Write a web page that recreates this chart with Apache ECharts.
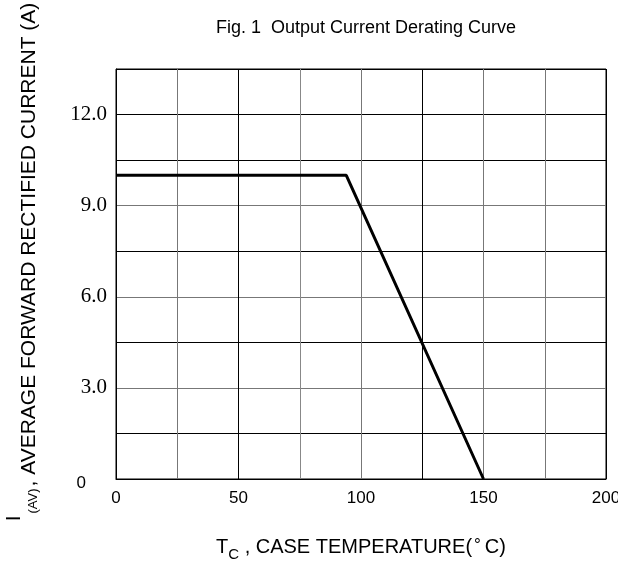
<!DOCTYPE html>
<html>
<head>
<meta charset="utf-8">
<script src="https://cdn.jsdelivr.net/npm/echarts@6/dist/echarts.min.js"></script>
<style>
  html, body { margin: 0; padding: 0; background: #fff; }
  #chart { width: 618px; height: 565px; }
</style>
</head>
<body>
<div id="chart"></div>
<script>
// derating curve: temperature (°C) vs current (A)
const tempPoints = [0, 94, 150]
const currentPoints = [10, 10, 0]
const xTicks = [0, 50, 100, 150, 200]
const yTicks = [0, 3, 6, 9, 12]

const chart = echarts.init(document.getElementById('chart'))

const sans = 'Liberation Sans, Arial, sans-serif'
const serif = 'Liberation Serif, Times New Roman, serif'

chart.setOption({
  animation: false,
  title: {
    text: 'Fig. 1  Output Current Derating Curve',
    left: 361,
    top: 14,
    textAlign: 'center',
    textStyle: { fontFamily: sans, fontSize: 18, fontWeight: 'normal', color: '#000' }
  },
  grid: {
    left: 116,
    right: 12,
    top: 69,
    bottom: 86,
    containLabel: false,
    outerBoundsMode: 'none',
    show: true,
    borderColor: '#000',
    borderWidth: 1
  },
  xAxis: {
    type: 'value',
    min: 0,
    max: 200,
    interval: 25,
    name: '{t|T}{s|C}{t| , CASE TEMPERATURE(}{d|°}{t|C)}',
    nameLocation: 'middle',
    nameGap: 58,
    nameTextStyle: {
      rich: {
        t: { fontFamily: sans, fontSize: 20, color: '#000', verticalAlign: 'top', lineHeight: 25 },
        s: { fontFamily: sans, fontSize: 15, color: '#000', verticalAlign: 'bottom', lineHeight: 25, padding: [9, 0, 0, 0] },
        d: { fontFamily: sans, fontSize: 17, color: '#000', verticalAlign: 'top', lineHeight: 25, padding: [0, 4, 0, 2] }
      }
    },
    axisLine: { show: true, lineStyle: { color: '#000' } },
    axisTick: { show: false },
    axisLabel: {
      margin: 11,
      fontFamily: sans,
      fontSize: 17,
      color: '#000',
      formatter: v => xTicks.includes(v) ? String(v) : ''
    },
    splitLine: { show: true, lineStyle: { color: ['#000', '#777', '#000', '#888', '#777', '#000', '#777', '#777', '#000'], width: 1 } }
  },
  yAxis: {
    type: 'value',
    min: 0,
    max: 13.5,
    interval: 1.5,
    name: '{i|I}{s|(AV)}{t|, AVERAGE FORWARD RECTIFIED CURRENT (A)}',
    nameLocation: 'middle',
    nameGap: 76,
    nameTextStyle: {
      rich: {
        i: { fontFamily: sans, fontSize: 21, color: '#000', lineHeight: 36, verticalAlign: 'top', padding: [0, 0, 0, 24] },
        s: { fontFamily: sans, fontSize: 13, color: '#000', lineHeight: 36, verticalAlign: 'bottom', padding: [0, 2, 0, 2] },
        t: { fontFamily: sans, fontSize: 21, color: '#000', lineHeight: 36, verticalAlign: 'bottom' }
      }
    },
    axisLine: { show: true, lineStyle: { color: '#000' } },
    axisTick: { show: false },
    axisLabel: {
      margin: 9,
      color: '#000',
      formatter: v => {
        if (v === 0) return '{z|0}'
        return yTicks.includes(v) ? '{n|' + v.toFixed(1) + '}' : ''
      },
      rich: {
        n: { fontFamily: serif, fontSize: 21, color: '#000' },
        z: { fontFamily: sans, fontSize: 17, color: '#000', padding: [8, 21, 0, 0] }
      }
    },
    splitLine: { show: true, lineStyle: { color: ['#000', '#000', '#777', '#000', '#777', '#000', '#777', '#000', '#000', '#000'], width: 1 } }
  },
  series: [{
    type: 'line',
    data: tempPoints.map((t, i) => [t, currentPoints[i]]),
    symbol: 'none',
    lineStyle: { color: '#000', width: 3 }
  }]
})
</script>
</body>
</html>
